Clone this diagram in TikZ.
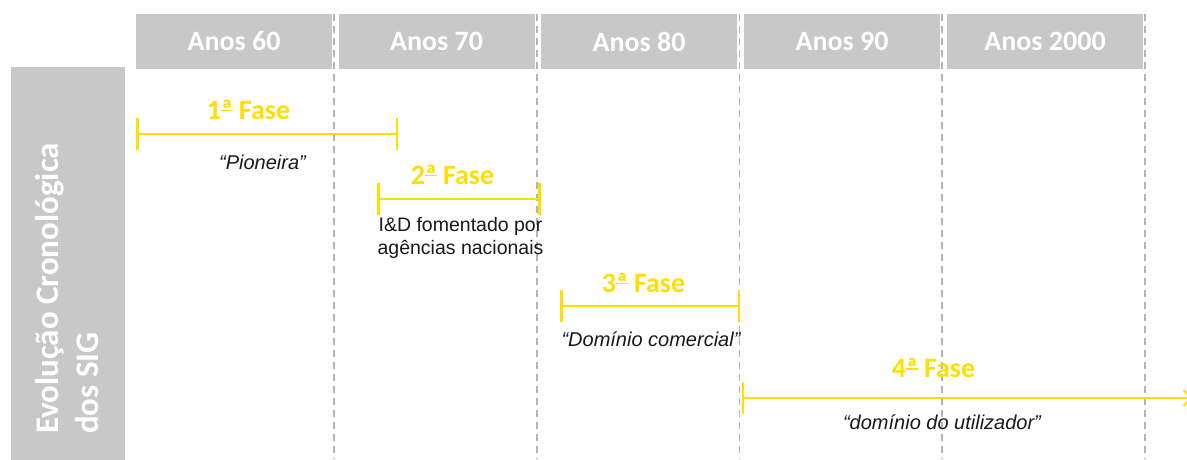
\documentclass[tikz,border=0pt]{standalone}
\usepackage{fontspec}
\setmainfont{Liberation Sans}
\newfontfamily\calibri{Carlito}
\usetikzlibrary{arrows.meta}
\definecolor{boxgray}{RGB}{200,200,200}
\definecolor{linegray}{RGB}{180,180,180}
\definecolor{faseyellow}{RGB}{255,222,0}
\newsavebox\ordbox
\newcommand\ordinal{\sbox\ordbox{ª}\rlap{\usebox\ordbox}\rule[0.27em]{\wd\ordbox}{0.06em}}
\tikzset{
  decade/.style={fill=boxgray, text=white, inner sep=0pt,
    minimum width=196pt, minimum height=55pt,
    font=\calibri\bfseries\fontsize{28}{30}\selectfont},
  fase/.style={text=faseyellow, anchor=base, inner sep=0pt,
    font=\calibri\bfseries\fontsize{28}{30}\selectfont},
  desc/.style={text=black!90, anchor=base, inner sep=0pt,
    font=\itshape\fontsize{20}{23}\selectfont},
  faseline/.style={draw=faseyellow, line width=2.5pt,
    {Bar[width=32pt]}-{Bar[width=32pt]}},
  divider/.style={draw=linegray, line width=1.6pt, dash pattern=on 7pt off 5pt},
}
\begin{document}
\begin{tikzpicture}[x=1pt,y=-1pt]
\useasboundingbox (0,0) rectangle (1187,459);

% column dividers
\coordinate (d1t) at (334,14);   \coordinate (d1b) at (334,459);
\coordinate (d2t) at (537,14);   \coordinate (d2b) at (537,459);
\coordinate (d3t) at (739.5,14); \coordinate (d3b) at (739.5,459);
\coordinate (d4t) at (942,14);   \coordinate (d4b) at (942,459);
\coordinate (d5t) at (1145,14);  \coordinate (d5b) at (1145,459);
\path[divider] (d1t) -- (d1b);
\path[divider] (d2t) -- (d2b);
\path[divider] (d3t) -- (d3b);
\path[divider] (d4t) -- (d4b);
\path[divider] (d5t) -- (d5b);

% decades
\node[decade] (a60) at (234,41.5) {Anos 60};
\node[decade] (a70) at (436.5,41.5) {Anos 70};
\node[decade] (a80) at (639,41.5) {Anos 80};
\node[decade] (a90) at (842,41.5) {Anos 90};
\node[decade] (a2000) at (1045,41.5) {Anos 2000};

% side title
\node[fill=boxgray, minimum width=114pt, minimum height=393pt, inner sep=0pt] (side) at (68,263) {};
\node[rotate=90, anchor=north west, inner sep=0pt, align=left, text=white,
  font=\calibri\bfseries\fontsize{33}{40}\selectfont] (sidetitle) at (35,434)
  {Evolução Cronológica\\dos SIG};

% phases
\coordinate (f1s) at (136,134);   \coordinate (f1e) at (398,134);
\coordinate (f2s) at (377,199);   \coordinate (f2e) at (540.5,199);
\coordinate (f3s) at (560,306);   \coordinate (f3e) at (740,306);
\coordinate (f4s) at (742,398);   \coordinate (f4e) at (1192,398);

\path[faseline] (f1s) -- (f1e);
\path[faseline] (f2s) -- (f2e);
\path[faseline] (f3s) -- (f3e);
\path[draw=faseyellow, line width=2pt,
  {Bar[width=32pt]}-{Straight Barb[length=7pt,width=16pt]}] (f4s) -- (f4e);

\node[fase] (fase1) at (248.5,119) {1\ordinal\ Fase};
\node[fase] (fase2) at (452.5,184) {2\ordinal\ Fase};
\node[fase] (fase3) at (643.5,292) {3\ordinal\ Fase};
\node[fase] (fase4) at (933.5,377.5) {4\ordinal\ Fase};

\node[desc] (pioneira) at (262.5,169) {“Pioneira”};
\node[desc, font=\fontsize{19.5}{23}\selectfont, align=center] (iandd) at (460.5,254.5)
  {I\&D fomentado por\\agências nacionais};
\node[desc] (comercial) at (651,346.5) {“Domínio comercial”};
\node[desc] (utilizador) at (942,429.5) {“domínio do utilizador”};
\end{tikzpicture}
\end{document}
